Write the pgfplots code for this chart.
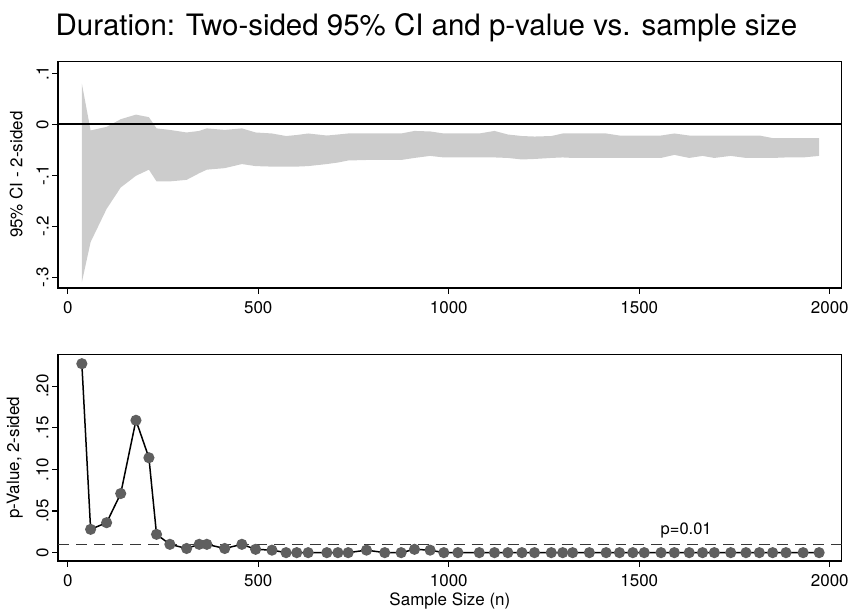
\documentclass[border=0pt]{standalone}
\usepackage{fontspec}
\setmainfont{TeX Gyre Heros}
\usepackage{pgfplots}
\usepackage{pgfplotstable}
\pgfplotsset{compat=1.18}
\usepgfplotslibrary{fillbetween}

\definecolor{bandgray}{RGB}{204,204,204}
\definecolor{markgray}{RGB}{95,95,95}
\definecolor{dashgray}{RGB}{55,55,55}

% n, lower and upper CI bound, two-sided p-value
\pgfplotstableread{
n    lo     hi     p
37   -0.310  0.080 0.227
60   -0.231 -0.012 0.028
102  -0.166 -0.005 0.036
139  -0.124  0.010 0.071
179  -0.101  0.019 0.159
213  -0.089  0.014 0.114
233  -0.112 -0.008 0.022
268  -0.112 -0.011 0.010
312  -0.109 -0.016 0.005
345  -0.096 -0.013 0.010
365  -0.089 -0.008 0.010
412  -0.086 -0.011 0.005
457  -0.078 -0.008 0.010
493  -0.082 -0.016 0.004
536  -0.083 -0.018 0.003
573  -0.083 -0.023 0.000
601  -0.083 -0.021 0.000
631  -0.082 -0.018 0.000
680  -0.078 -0.022 0.000
709  -0.075 -0.020 0.000
736  -0.071 -0.018 0.000
784  -0.070 -0.018 0.003
832  -0.070 -0.018 0.000
875  -0.070 -0.018 0.000
910  -0.066 -0.013 0.004
951  -0.062 -0.014 0.003
987  -0.065 -0.018 0.000
1024 -0.065 -0.018 0.000
1080 -0.065 -0.018 0.000
1120 -0.065 -0.013 0.000
1155 -0.066 -0.020 0.000
1192 -0.069 -0.023 0.000
1225 -0.068 -0.024 0.000
1269 -0.066 -0.023 0.000
1299 -0.065 -0.018 0.000
1325 -0.066 -0.018 0.000
1369 -0.066 -0.018 0.000
1413 -0.066 -0.018 0.000
1448 -0.066 -0.022 0.000
1483 -0.066 -0.022 0.000
1513 -0.066 -0.022 0.000
1557 -0.066 -0.022 0.000
1592 -0.060 -0.018 0.000
1631 -0.066 -0.022 0.000
1666 -0.062 -0.022 0.000
1697 -0.066 -0.022 0.000
1740 -0.062 -0.022 0.000
1780 -0.066 -0.022 0.000
1815 -0.066 -0.022 0.000
1850 -0.066 -0.027 0.000
1885 -0.065 -0.027 0.000
1930 -0.065 -0.027 0.000
1972 -0.062 -0.027 0.000
}\ptable

\pgfplotsset{
  panel/.style={
    scale only axis, width=784.4pt,
    xmin=-25, xmax=2031,
    xtick={0,500,1000,1500,2000},
    axis line style={line width=1.5pt},
    tick align=outside, xtick pos=lower, ytick pos=left,
    major tick length=6pt,
    every tick/.style={black, line width=1.2pt},
    tick label style={font=\fontsize{17}{20}\selectfont},
    /pgf/number format/assume math mode=true,
    /pgf/number format/1000 sep={},
    xticklabel style={yshift=-4pt},
    yticklabel style={rotate=90, anchor=south},
    every axis y label/.style={at={(axis description cs:0,0.5)},
      xshift=-32pt, rotate=90, anchor=south,
      font=\fontsize{17}{20}\selectfont},
    every axis x label/.style={at={(axis description cs:0.5,0)}, anchor=north,
      yshift=-28pt, font=\fontsize{17}{20}\selectfont},
  }
}

\begin{document}
\begin{tikzpicture}
\node[font=\fontsize{29.5}{34}\selectfont, anchor=base] at (427pt,574pt)
  {Duration: Two-sided 95\% CI and p-value vs. sample size};

\begin{axis}[panel, height=226.6pt,
    at={(58.3pt,321.7pt)}, anchor=south west,
    ymin=-0.321, ymax=0.123,
    ytick={-0.3,-0.2,-0.1,0,0.1},
    yticklabels={-.3,-.2,-.1,0,.1},
    ylabel={95\% CI - 2-sided}]
\addplot[name path=hi, draw=none] table[x=n, y=hi] {\ptable};
\addplot[name path=lo, draw=none] table[x=n, y=lo] {\ptable};
\addplot[bandgray] fill between[of=hi and lo];
\addplot[black, line width=2pt] coordinates {(-25,0) (2031,0)};
\end{axis}

\begin{axis}[panel, height=206.7pt,
    at={(58.3pt,48.3pt)}, anchor=south west,
    ymin=-0.010, ymax=0.238,
    ytick={0,0.05,0.1,0.15,0.2},
    yticklabels={0,.05,.10,.15,.20},
    ylabel={p-Value, 2-sided},
    xlabel={Sample Size (n)}]
\addplot[dashgray, line width=1.5pt, dash pattern=on 11pt off 7pt]
  coordinates {(-25,0.01) (2031,0.01)};
\addplot[black, line width=1.5pt, mark=*, mark size=4.8pt,
  mark options={draw=markgray, fill=markgray, solid}]
  table[x=n, y=p] {\ptable};
\node[font=\fontsize{16.5}{19}\selectfont, anchor=south] at (axis cs:1623,0.01)
  [yshift=3pt] {p=0.01};
\end{axis}

\path (0,0) rectangle (852pt,610pt);
\end{tikzpicture}
\end{document}
